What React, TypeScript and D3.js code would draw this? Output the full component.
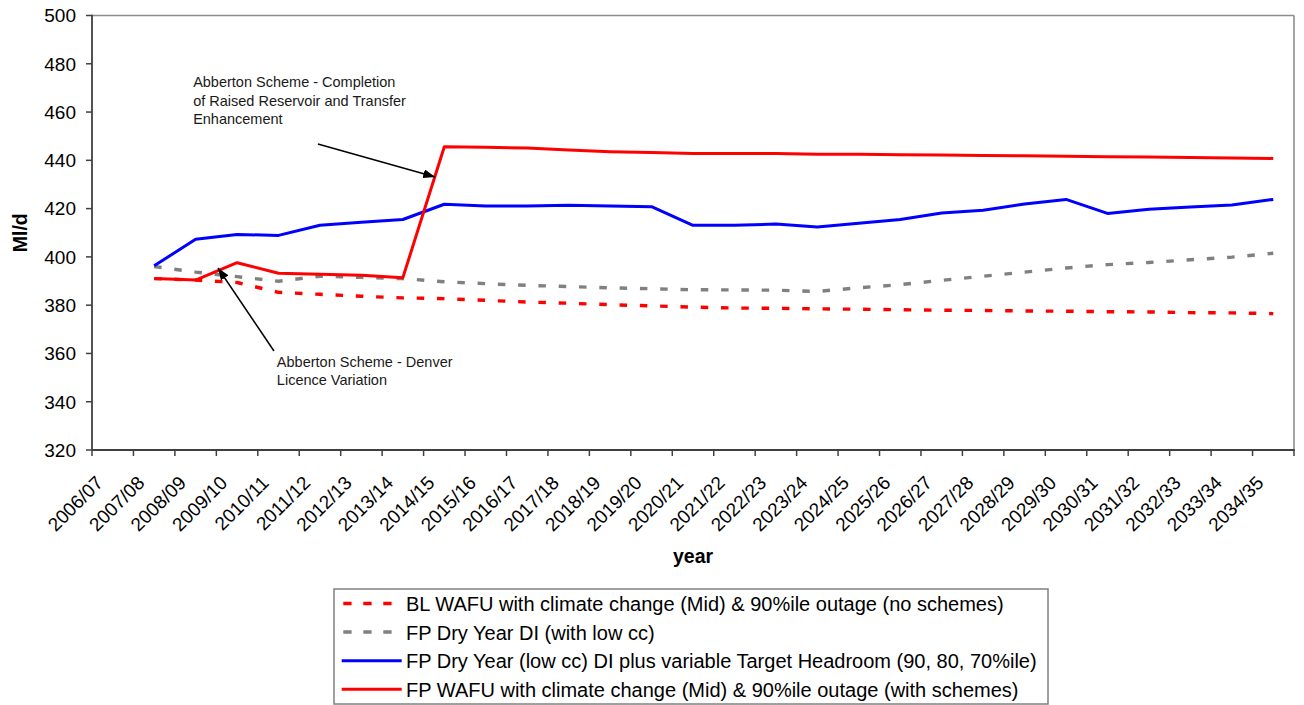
import React from "react";
import * as d3 from "d3";

const categories = [
  "2006/07", "2007/08", "2008/09", "2009/10", "2010/11", "2011/12", "2012/13", "2013/14",
  "2014/15", "2015/16", "2016/17", "2017/18", "2018/19", "2019/20", "2020/21", "2021/22",
  "2022/23", "2023/24", "2024/25", "2025/26", "2026/27", "2027/28", "2028/29", "2029/30",
  "2030/31", "2031/32", "2032/33", "2033/34", "2034/35",
];

const blWafuNoSchemes: (number | null)[] = [
  null, 391.0, 390.4, 389.4, 385.3, 384.5, 383.7, 383.0, 382.7, 382.0, 381.3, 380.8, 380.2, 379.7,
  379.2, 378.8, 378.7, 378.5, 378.3, 378.1, 377.9, 377.8, 377.6, 377.5, 377.3, 377.2, 376.9, 376.8, 376.5,
];

const fpDryYearDI: (number | null)[] = [
  null, 396.0, 393.7, 391.8, 389.9, 392.0, 391.5, 391.0, 389.7, 388.9, 388.2, 387.7, 387.2, 386.8,
  386.4, 386.3, 386.2, 385.7, 387.2, 388.5, 390.3, 392.0, 393.7, 395.4, 396.8, 397.7, 398.8, 399.9, 401.5,
];

const fpDryYearHeadroom: (number | null)[] = [
  null, 396.3, 407.3, 409.3, 408.9, 413.1, 414.3, 415.5, 421.8, 421.1, 421.1, 421.4, 421.1, 420.8,
  413.1, 413.1, 413.6, 412.4, 413.9, 415.5, 418.2, 419.3, 421.9, 423.8, 418.0, 419.7, 420.7, 421.5, 423.8,
];

const fpWafuWithSchemes: (number | null)[] = [
  null, 391.0, 390.4, 397.6, 393.2, 392.8, 392.4, 391.4, 445.6, 445.4, 445.1, 444.3, 443.6, 443.2,
  442.8, 442.8, 442.8, 442.5, 442.5, 442.3, 442.2, 442.0, 441.9, 441.7, 441.5, 441.4, 441.2, 441.0, 440.8,
];

const seriesNames = [
  "BL WAFU with climate change (Mid) & 90%ile outage (no schemes)",
  "FP Dry Year DI (with low cc)",
  "FP Dry Year (low cc) DI plus variable Target Headroom (90, 80, 70%ile)",
  "FP WAFU with climate change (Mid) & 90%ile outage (with schemes)",
];

const yTickValues = [320, 340, 360, 380, 400, 420, 440, 460, 480, 500];

// annotation anchors in data space: [category index (fractional), value]
const annotation1Lines = ["Abberton Scheme - Completion", "of Raised Reservoir and Transfer", "Enhancement"];
const annotation1Text: [number, number] = [1.94, 470.3];
const annotation1Arrow: [[number, number], [number, number]] = [[4.95, 446.8], [7.78, 433.1]];
const annotation2Lines = ["Abberton Scheme - Denver", "Licence Variation"];
const annotation2Text: [number, number] = [3.96, 354.5];
const annotation2Arrow: [[number, number], [number, number]] = [[3.89, 361.0], [2.54, 395.4]];

const FONT = "'Liberation Sans', Arial, Helvetica, sans-serif";

export default function App() {
  const W = 1304;
  const H = 705;
  const left = 92, right = 1294, top = 15.5, bottom = 450;

  const x = d3.scaleBand<string>().domain(categories).range([left, right]).padding(0);
  const step = x.step();
  const xc = (i: number) => (x(categories[0]) as number) + (i + 0.5) * step;
  const y = d3.scaleLinear().domain([320, 500]).range([bottom, top]);

  const line = d3
    .line<number | null>()
    .defined((d) => d != null)
    .x((_, i) => xc(i))
    .y((d) => y(d as number));

  const series = [
    { name: seriesNames[0], data: blWafuNoSchemes, color: "#FF0000", dash: "7.5,12.8", width: 3.4 },
    { name: seriesNames[1], data: fpDryYearDI, color: "#808080", dash: "7.5,12.8", width: 3.4 },
    { name: seriesNames[2], data: fpDryYearHeadroom, color: "#0000FF", dash: null, width: 3 },
    { name: seriesNames[3], data: fpWafuWithSchemes, color: "#FF0000", dash: null, width: 3 },
  ];

  const boundaries = d3.range(categories.length + 1).map((i) => left + i * step);

  const pt = (p: [number, number]) => [xc(p[0]), y(p[1])];
  const a1s = pt(annotation1Arrow[0]);
  const a1e = pt(annotation1Arrow[1]);
  const a2s = pt(annotation2Arrow[0]);
  const a2e = pt(annotation2Arrow[1]);
  const t1 = pt(annotation1Text);
  const t2 = pt(annotation2Text);

  const legendX = 334, legendY = 589, legendW = 714, legendH = 115;

  return (
    <svg
      width={W}
      height={H}
      style={{ position: "absolute", left: 0, top: 0, background: "#fff" }}
      fontFamily={FONT}
    >
      <defs>
        <marker id="arrow" markerUnits="userSpaceOnUse" markerWidth={13} markerHeight={9} refX={12} refY={4.5} orient="auto">
          <path d="M0,0 L12,4.5 L0,9 Z" fill="#000" />
        </marker>
      </defs>
      <rect x={0} y={0} width={W} height={H} fill="#fff" />

      {/* plot border */}
      <line x1={left} y1={top} x2={right} y2={top} stroke="#8c8c8c" strokeWidth={1.6} />
      <line x1={right} y1={top} x2={right} y2={bottom} stroke="#8c8c8c" strokeWidth={1.6} />

      {/* series */}
      {series.map((s, i) => (
        <path
          key={i}
          d={line(s.data) || ""}
          fill="none"
          stroke={s.color}
          strokeWidth={s.width}
          strokeDasharray={s.dash || undefined}
          strokeLinejoin="round"
        />
      ))}

      {/* axes */}
      <line x1={left} y1={top - 0.8} x2={left} y2={bottom} stroke="#404040" strokeWidth={1.8} />
      <line x1={left} y1={bottom} x2={right + 0.8} y2={bottom} stroke="#404040" strokeWidth={1.8} />
      {yTickValues.map((v) => (
        <g key={v}>
          <line x1={left - 6} x2={left} y1={y(v)} y2={y(v)} stroke="#404040" strokeWidth={1.5} />
          <text x={76} y={y(v)} dy="0.36em" textAnchor="end" fontSize={19} fill="#000">
            {v}
          </text>
        </g>
      ))}
      {boundaries.map((bx, i) => (
        <line key={i} x1={bx} x2={bx} y1={bottom} y2={bottom + 6} stroke="#404040" strokeWidth={1.5} />
      ))}
      {categories.map((c, i) => (
        <text
          key={c}
          transform={`translate(${xc(i) - 8.5},${484}) rotate(-45)`}
          textAnchor="end"
          fontSize={19}
          fill="#000"
        >
          {c}
        </text>
      ))}

      <text x={(left + right) / 2} y={563} textAnchor="middle" fontSize={19.5} fontWeight="bold" fill="#000">
        year
      </text>
      <text
        transform={`translate(26.5,${(top + bottom) / 2}) rotate(-90)`}
        textAnchor="middle"
        fontSize={19.5}
        fontWeight="bold"
        fill="#000"
      >
        Ml/d
      </text>

      {/* annotations */}
      <line x1={a1s[0]} y1={a1s[1]} x2={a1e[0]} y2={a1e[1]} stroke="#000" strokeWidth={1.5} markerEnd="url(#arrow)" />
      <line x1={a2s[0]} y1={a2s[1]} x2={a2e[0]} y2={a2e[1]} stroke="#000" strokeWidth={1.5} markerEnd="url(#arrow)" />
      {annotation1Lines.map((l, i) => (
        <text key={l} x={t1[0]} y={t1[1] + i * 18.4} fontSize={14.5} fill="#1a1a1a">
          {l}
        </text>
      ))}
      {annotation2Lines.map((l, i) => (
        <text key={l} x={t2[0]} y={t2[1] + i * 18.4} fontSize={14.5} fill="#1a1a1a">
          {l}
        </text>
      ))}

      {/* legend */}
      <rect x={legendX} y={legendY} width={legendW} height={legendH} fill="#fff" stroke="#808080" strokeWidth={1.5} />
      {series.map((s, i) => {
        const cy = 603.5 + i * 28.6;
        return (
          <g key={i}>
            <line
              x1={s.dash ? 343.3 : 341.7}
              x2={s.dash ? 391.7 : 401.7}
              y1={cy}
              y2={cy}
              stroke={s.color}
              strokeWidth={s.dash ? 3.5 : 3}
              strokeDasharray={s.dash ? "8.3,11.7" : undefined}
            />
            <text x={406} y={cy + 7.5} fontSize={20} fill="#000">
              {s.name}
            </text>
          </g>
        );
      })}
    </svg>
  );
}
